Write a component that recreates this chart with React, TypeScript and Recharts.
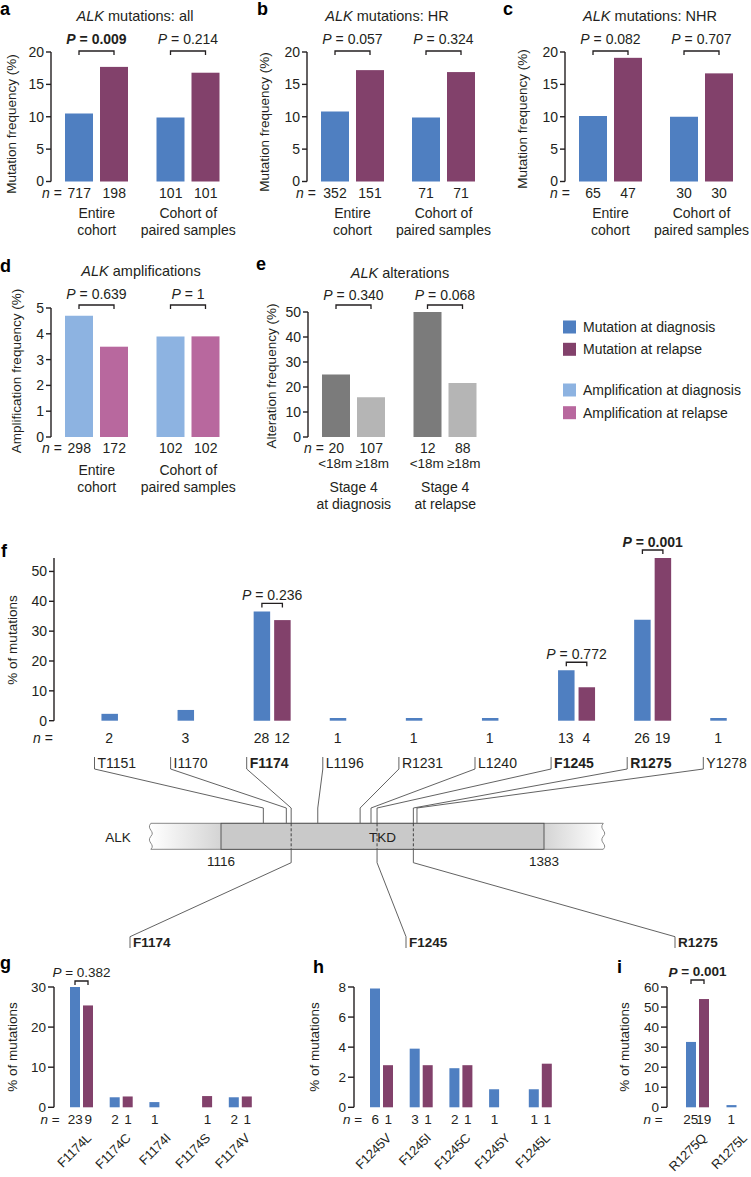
import React from "react";
import { BarChart, Bar, XAxis, YAxis } from "recharts";

const FONT = "'Liberation Sans', Arial, Helvetica, sans-serif";
const INK = "#231f20";
const WIRE = "#505050";
const PAGE_W = 751;
const PAGE_H = 1177;
const CHART_W = 800;

const MUT_DIAG = "#4f7fc1";
const MUT_REL = "#82416b";
const AMP_DIAG = "#8db3e1";
const AMP_REL = "#b8689e";
const YOUNG = "#7b7b7b";
const OLD = "#b5b5b5";

// a-c: ALK mutations (all / HR / NHR)
const cohorts = ["Entire\ncohort", "Cohort of\npaired samples"];
const allDiag = [10.5, 9.9];
const allRel = [17.7, 16.8];
const allNDiag = [717, 101];
const allNRel = [198, 101];
const allP = ["0.009", "0.214"];

const hrDiag = [10.8, 9.9];
const hrRel = [17.2, 16.9];
const hrNDiag = [352, 71];
const hrNRel = [151, 71];
const hrP = ["0.057", "0.324"];

const nhrDiag = [10.1, 10.0];
const nhrRel = [19.1, 16.7];
const nhrNDiag = [65, 30];
const nhrNRel = [47, 30];
const nhrP = ["0.082", "0.707"];

// d: amplifications
const ampDiag = [4.7, 3.9];
const ampRel = [3.5, 3.9];
const ampNDiag = [298, 102];
const ampNRel = [172, 102];
const ampP = ["0.639", "1"];

// e: alterations by age
const stageGroups = ["Stage 4\nat diagnosis", "Stage 4\nat relapse"];
const ageBands = ["<18m", "\u226518m"];
const altYoung = [25.0, 50.0];
const altOld = [15.9, 21.6];
const altNYoung = [20, 12];
const altNOld = [107, 88];
const altP = ["0.340", "0.068"];

// f: mutation sites
const sites = ["T1151", "I1170", "F1174", "L1196", "R1231", "L1240", "F1245", "R1275", "Y1278"];
const siteResidue = [1151, 1170, 1174, 1196, 1231, 1240, 1245, 1275, 1278];
const siteHot = [false, false, true, false, false, false, true, true, false];
const siteDiag = [2.3, 3.6, 36.6, 0.9, 0.9, 0.9, 16.9, 33.8, 0.9];
const siteRel = [null, null, 33.7, null, null, null, 11.2, 54.5, null];
const siteNDiag = [2, 3, 28, 1, 1, 1, 13, 26, 1];
const siteNRel = [null, null, 12, null, null, null, 4, 19, null];
const siteP = [null, null, "0.236", null, null, null, "0.772", "0.001", null];
const siteBold = [false, false, false, false, false, false, false, true, false];

// ALK protein sketch
const alkShown = [1058, 1432];
const tkdSpan = [1116, 1383];
const zoomSites = [1174, 1245, 1275];
const zoomNames = ["F1174", "F1245", "R1275"];

// g-i: amino acid changes
const f1174 = ["F1174L", "F1174C", "F1174I", "F1174S", "F1174V"];
const f1174Diag = [30.0, 2.5, 1.3, null, 2.5];
const f1174Rel = [25.4, 2.7, null, 2.8, 2.7];
const f1174NDiag = [23, 2, 1, null, 2];
const f1174NRel = [9, 1, null, 1, 1];
const f1174P = ["0.382", null, null, null, null];

const f1245 = ["F1245V", "F1245I", "F1245C", "F1245Y", "F1245L"];
const f1245Diag = [7.9, 3.9, 2.6, 1.2, 1.2];
const f1245Rel = [2.8, 2.8, 2.8, null, 2.9];
const f1245NDiag = [6, 3, 2, 1, 1];
const f1245NRel = [1, 1, 1, null, 1];

const r1275 = ["R1275Q", "R1275L"];
const r1275Diag = [32.6, 1.1];
const r1275Rel = [54.0, null];
const r1275NDiag = [25, 1];
const r1275NRel = [19, null];
const r1275P = ["0.001", null];

// ---- layout helpers ----
const TKD_PX = [221, 544];
const ALK_TOP = 823.3;
const ALK_BOT = 849.3;
const proteinX = (aa: number) =>
  TKD_PX[0] + ((aa - tkdSpan[0]) * (TKD_PX[1] - TKD_PX[0])) / (tkdSpan[1] - tkdSpan[0]);

type Spec = {
  axisX: number;
  plotTop: number;
  plotBottom: number;
  band: number;
  padLeft: number;
  barSize: number;
  barGap: number;
  yMax: number;
  ticks: number[];
  tickSize: number;
  fs: number;
  names: string[];
  dx: (number | null)[];
  rl: (number | null)[];
  nDx: (number | null)[];
  nRl: (number | null)[];
  colors: [string, string];
  p: (string | null)[];
  pBold: boolean[];
  bracketTop: boolean;
  bracketGap: number;
  pGap: number;
  nY: number;
  nEqX: number;
  below?: (cx: number, i: number, off: number) => React.ReactNode;
};

const T = (props: any) => {
  const { x, y, anchor = "middle", size = 14, weight = 400, children, ...rest } = props;
  return (
    <text x={x} y={y} textAnchor={anchor} dominantBaseline="central" fontSize={size} fontWeight={weight} fill={INK} fontFamily={FONT} {...rest}>
      {children}
    </text>
  );
};

const groupLines = (names: string[], y0: number) => (cx: number, i: number) =>
  names[i].split("\n").map((l, k) => (
    <T key={k} x={cx} y={y0 + k * 17}>
      {l}
    </T>
  ));

function CategoryTick(props: any) {
  const { x, payload, spec } = props;
  const s: Spec = spec;
  const i: number = props.index ?? payload?.index ?? 0;
  const off = (s.barSize + s.barGap) / 2;
  return (
    <g>
      {i === 0 && (
        <T x={s.nEqX} y={s.nY} size={s.fs}>
          <tspan fontStyle="italic">n</tspan> =
        </T>
      )}
      {s.nDx[i] != null && (
        <T x={x - off} y={s.nY} size={s.fs}>
          {s.nDx[i]}
        </T>
      )}
      {s.nRl[i] != null && (
        <T x={x + off} y={s.nY} size={s.fs}>
          {s.nRl[i]}
        </T>
      )}
      {s.below ? s.below(x, i, off) : null}
    </g>
  );
}

const relapseShape = (s: Spec) => (props: any) => {
  const { x, y, width, height, fill, payload } = props;
  const i: number = payload?.i ?? props.index ?? 0;
  const rel = s.rl[i];
  const rect = <rect x={x} y={y} width={width} height={Math.max(0, height || 0)} fill={fill} />;
  const p = s.p[i];
  if (!p || !rel || !height) return rect;
  const ppu = height / rel;
  const base = y + height;
  const ref = s.bracketTop ? s.yMax : Math.max(rel, s.dx[i] ?? 0);
  const by = base - ref * ppu - s.bracketGap;
  const x2 = x + width / 2;
  const x1 = x2 - (width + s.barGap);
  return (
    <g>
      {rect}
      <path d={`M${x1},${by + 4} V${by} H${x2} V${by + 4}`} fill="none" stroke={INK} strokeWidth={1.3} />
      <T x={(x1 + x2) / 2} y={by - s.pGap} size={s.fs} weight={s.pBold[i] ? 700 : 400}>
        <tspan fontStyle="italic">P</tspan> = {p}
      </T>
    </g>
  );
};

function Panel({ spec }: { spec: Spec }) {
  const s = spec;
  const data = s.names.map((name, i) => ({ name, dx: s.dx[i], rl: s.rl[i], i }));
  const yW = 40;
  const plotW = s.padLeft + s.band * s.names.length;
  const margin = {
    top: s.plotTop,
    left: s.axisX - yW,
    right: CHART_W - s.axisX - plotW,
    bottom: PAGE_H - s.plotBottom - 1,
  };
  return (
    <div style={{ position: "absolute", left: 0, top: 0 }}>
      <BarChart width={CHART_W} height={PAGE_H} data={data} margin={margin} barGap={s.barGap} barSize={s.barSize}>
        <XAxis
          dataKey="name"
          type="category"
          height={1}
          axisLine={false}
          tickLine={false}
          interval={0}
          padding={{ left: s.padLeft, right: 0 }}
          tick={(tp: any) => <CategoryTick {...tp} spec={s} />}
        />
        <YAxis
          width={yW}
          type="number"
          domain={[0, s.yMax]}
          ticks={s.ticks}
          interval={0}
          tickSize={s.tickSize}
          tickMargin={2}
          axisLine={{ stroke: INK, strokeWidth: 1.4 }}
          tickLine={{ stroke: INK, strokeWidth: 1.4 }}
          tick={{ fill: INK, fontSize: s.fs, fontFamily: FONT }}
        />
        <Bar dataKey="dx" fill={s.colors[0]} isAnimationActive={false} />
        <Bar dataKey="rl" fill={s.colors[1]} isAnimationActive={false} shape={relapseShape(s)} />
      </BarChart>
    </div>
  );
}

const topRow = {
  plotTop: 52,
  plotBottom: 181.5,
  band: 91.5,
  padLeft: 0,
  barSize: 28,
  barGap: 7,
  yMax: 20,
  ticks: [0, 5, 10, 15, 20],
  tickSize: 5,
  fs: 14,
  names: cohorts,
  colors: [MUT_DIAG, MUT_REL] as [string, string],
  bracketTop: true,
  bracketGap: 1,
  pGap: 12,
  nY: 193,
  below: groupLines(cohorts, 213),
};

const panelA: Spec = { ...topRow, axisX: 51, dx: allDiag, rl: allRel, nDx: allNDiag, nRl: allNRel, p: allP, pBold: [true, false], nEqX: 52 };
const panelB: Spec = { ...topRow, axisX: 307, band: 91, dx: hrDiag, rl: hrRel, nDx: hrNDiag, nRl: hrNRel, p: hrP, pBold: [false, false], nEqX: 306 };
const panelC: Spec = { ...topRow, axisX: 565, band: 91, dx: nhrDiag, rl: nhrRel, nDx: nhrNDiag, nRl: nhrNRel, p: nhrP, pBold: [false, false], nEqX: 560 };

const panelD: Spec = {
  ...topRow,
  axisX: 51,
  plotTop: 308,
  plotBottom: 437,
  yMax: 5,
  ticks: [0, 1, 2, 3, 4, 5],
  colors: [AMP_DIAG, AMP_REL],
  dx: ampDiag,
  rl: ampRel,
  nDx: ampNDiag,
  nRl: ampNRel,
  p: ampP,
  pBold: [false, false],
  bracketGap: 3,
  pGap: 11,
  nY: 448,
  nEqX: 52,
  below: groupLines(cohorts, 470),
};

const panelE: Spec = {
  ...topRow,
  axisX: 308,
  plotTop: 312,
  plotBottom: 437,
  yMax: 50,
  ticks: [0, 10, 20, 30, 40, 50],
  names: stageGroups,
  colors: [YOUNG, OLD],
  dx: altYoung,
  rl: altOld,
  nDx: altNYoung,
  nRl: altNOld,
  p: altP,
  pBold: [false, false],
  bracketGap: 7,
  pGap: 10,
  nY: 448,
  nEqX: 314,
  below: (cx, i, off) => (
    <g>
      {ageBands.map((a, k) => (
        <T key={"a" + k} x={cx + (k ? off + 1 : -off - 1)} y={463} size={13.5}>
          {a}
        </T>
      ))}
      {stageGroups[i].split("\n").map((l, k) => (
        <T key={"s" + k} x={cx} y={487 + k * 17}>
          {l}
        </T>
      ))}
    </g>
  ),
};

const panelF: Spec = {
  axisX: 54,
  plotTop: 558,
  plotBottom: 720.7,
  band: 76.1,
  padLeft: 27.45,
  barSize: 16.5,
  barGap: 4,
  yMax: 50,
  ticks: [0, 10, 20, 30, 40, 50],
  tickSize: 5,
  fs: 14,
  names: sites,
  dx: siteDiag,
  rl: siteRel,
  nDx: siteNDiag,
  nRl: siteNRel,
  colors: [MUT_DIAG, MUT_REL],
  p: siteP,
  pBold: siteBold,
  bracketTop: false,
  bracketGap: 8,
  pGap: 8,
  nY: 738,
  nEqX: 43,
  below: (cx, i) => {
    const tx = cx - 25;
    const px = proteinX(siteResidue[i]);
    return (
      <g>
        <path d={`M${tx},757 V769 L${px},808 V${ALK_TOP}`} fill="none" stroke={WIRE} strokeWidth={0.9} />
        <T x={tx + 3} y={763} anchor="start" weight={siteHot[i] ? 700 : 400}>
          {sites[i]}
        </T>
      </g>
    );
  },
};

const rotated = (names: string[]) => (cx: number, i: number) => (
  <text
    transform={`translate(${cx + 10},1139) rotate(-45)`}
    textAnchor="end"
    fontSize={13}
    letterSpacing={-0.3}
    fill={INK}
    fontFamily={FONT}
  >
    {names[i]}
  </text>
);

const bottomRow = {
  plotTop: 987,
  plotBottom: 1107.3,
  band: 39.7,
  padLeft: 8,
  barSize: 10,
  barGap: 3,
  tickSize: 6,
  fs: 13.5,
  colors: [MUT_DIAG, MUT_REL] as [string, string],
  bracketTop: false,
  bracketGap: 6,
  pGap: 9,
  nY: 1119,
};

const panelG: Spec = {
  ...bottomRow,
  axisX: 54,
  yMax: 30,
  ticks: [0, 10, 20, 30],
  names: f1174,
  dx: f1174Diag,
  rl: f1174Rel,
  nDx: f1174NDiag,
  nRl: f1174NRel,
  p: f1174P,
  pBold: [false, false, false, false, false],
  nEqX: 50,
  below: rotated(f1174),
};

const panelH: Spec = {
  ...bottomRow,
  axisX: 354,
  yMax: 8,
  ticks: [0, 2, 4, 6, 8],
  names: f1245,
  dx: f1245Diag,
  rl: f1245Rel,
  nDx: f1245NDiag,
  nRl: f1245NRel,
  p: [null, null, null, null, null],
  pBold: [false, false, false, false, false],
  nEqX: 352.5,
  below: rotated(f1245),
};

const panelI: Spec = {
  ...bottomRow,
  axisX: 667,
  band: 40.5,
  padLeft: 10,
  yMax: 60,
  ticks: [0, 10, 20, 30, 40, 50, 60],
  names: r1275,
  dx: r1275Diag,
  rl: r1275Rel,
  nDx: r1275NDiag,
  nRl: r1275NRel,
  p: r1275P,
  pBold: [true, false],
  bracketTop: true,
  bracketGap: 7,
  pGap: 8.5,
  nEqX: 653,
  below: rotated(r1275),
};

const letters: [string, number, number][] = [
  ["a", 0, 15],
  ["b", 257, 15],
  ["c", 503, 15],
  ["d", 0, 272],
  ["e", 256, 270],
  ["f", 1, 557],
  ["g", 0, 969],
  ["h", 313, 973],
  ["i", 617, 973],
];

const titles: [string, number, number][] = [
  ["mutations: all", 135, 16],
  ["mutations: HR", 387, 16],
  ["mutations: NHR", 650, 16],
  ["amplifications", 141, 271],
  ["alterations", 400, 273],
];

const axisTitles: [string, number, number][] = [
  ["Mutation frequency (%)", 11, 124],
  ["Mutation frequency (%)", 264, 122],
  ["Mutation frequency (%)", 522, 119],
  ["Amplification frequency (%)", 16, 371],
  ["Alteration frequency (%)", 271, 376],
  ["% of mutations", 12, 640],
  ["% of mutations", 12, 1047],
  ["% of mutations", 314, 1047],
  ["% of mutations", 624, 1047],
];

const legendItems: [string, string, number][] = [
  ["Mutation at diagnosis", MUT_DIAG, 327],
  ["Mutation at relapse", MUT_REL, 349.3],
  ["Amplification at diagnosis", AMP_DIAG, 390],
  ["Amplification at relapse", AMP_REL, 412.7],
];

const zoomLabelX = [130, 406, 675];

function Overlay() {
  const x0 = proteinX(alkShown[0]);
  const x1 = proteinX(alkShown[1]);
  const k0 = TKD_PX[0];
  const k1 = TKD_PX[1];
  const wave = (x: number) =>
    `M${x},${ALK_TOP} C${x - 5},${ALK_TOP + 6} ${x + 5},${ALK_TOP + 8} ${x},${ALK_TOP + 13} C${x - 5},${ALK_TOP + 19} ${x + 5},${ALK_TOP + 21} ${x},${ALK_BOT}`;
  return (
    <svg width={PAGE_W} height={PAGE_H} style={{ position: "absolute", left: 0, top: 0 }}>
      <defs>
        <linearGradient id="alkLeft" x1="0" x2="1" y1="0" y2="0">
          <stop offset="0" stopColor="#ffffff" />
          <stop offset="1" stopColor="#d4d4d4" />
        </linearGradient>
        <linearGradient id="alkRight" x1="0" x2="1" y1="0" y2="0">
          <stop offset="0" stopColor="#d4d4d4" />
          <stop offset="1" stopColor="#ffffff" />
        </linearGradient>
      </defs>

      {letters.map(([l, x, y]) => (
        <text key={l} x={x} y={y} fontSize={18} fontWeight={700} fill="#000" fontFamily={FONT}>
          {l}
        </text>
      ))}
      {titles.map(([t, x, y]) => (
        <T key={t} x={x} y={y} size={14.5}>
          <tspan fontStyle="italic">ALK</tspan> {t}
        </T>
      ))}
      {axisTitles.map(([t, x, y], k) => (
        <T key={k} x={x} y={y} size={13.5} transform={`rotate(-90 ${x} ${y})`}>
          {t}
        </T>
      ))}
      {legendItems.map(([t, c, y]) => (
        <g key={t}>
          <rect x={563} y={y - 6.5} width={13} height={13} fill={c} />
          <T x={583} y={y} anchor="start" size={14}>
            {t}
          </T>
        </g>
      ))}

      {/* ALK protein */}
      <rect x={x0} y={ALK_TOP} width={k0 - x0} height={ALK_BOT - ALK_TOP} fill="url(#alkLeft)" />
      <rect x={k1} y={ALK_TOP} width={x1 - k1} height={ALK_BOT - ALK_TOP} fill="url(#alkRight)" />
      <line x1={x0} x2={x1} y1={ALK_TOP} y2={ALK_TOP} stroke="#7a7a7a" strokeWidth={0.9} />
      <line x1={x0} x2={x1} y1={ALK_BOT} y2={ALK_BOT} stroke="#7a7a7a" strokeWidth={0.9} />
      <path d={wave(x0)} fill="none" stroke="#7a7a7a" strokeWidth={0.9} />
      <path d={wave(x1)} fill="none" stroke="#7a7a7a" strokeWidth={0.9} />
      <rect x={k0} y={ALK_TOP} width={k1 - k0} height={ALK_BOT - ALK_TOP} fill="#c9c9c9" stroke="#4d4d4d" strokeWidth={0.9} />
      <T x={118} y={837} size={13.5}>ALK</T>
      <T x={(k0 + k1) / 2} y={837} size={13.5}>TKD</T>
      <T x={k0} y={861} size={13.5}>{tkdSpan[0]}</T>
      <T x={k1} y={861} size={13.5}>{tkdSpan[1]}</T>
      {zoomSites.map((aa, k) => {
        const px = proteinX(aa);
        const lx = zoomLabelX[k];
        return (
          <g key={aa}>
            <line x1={px} x2={px} y1={ALK_TOP} y2={ALK_BOT} stroke="#333" strokeWidth={0.9} strokeDasharray="3,2" />
            <path d={`M${px},${ALK_BOT} V862.7 L${lx},936.7 V948`} fill="none" stroke={WIRE} strokeWidth={0.9} />
            <T x={lx + 3} y={942.7} anchor="start" size={13.5} weight={700}>
              {zoomNames[k]}
            </T>
          </g>
        );
      })}
    </svg>
  );
}

export default function App() {
  return (
    <div
      style={{
        position: "absolute",
        left: 0,
        top: 0,
        width: PAGE_W,
        height: PAGE_H,
        overflow: "hidden",
        background: "#fff",
        fontFamily: FONT,
      }}
    >
      {[panelA, panelB, panelC, panelD, panelE, panelF, panelG, panelH, panelI].map((s, k) => (
        <Panel key={k} spec={s} />
      ))}
      <Overlay />
    </div>
  );
}
